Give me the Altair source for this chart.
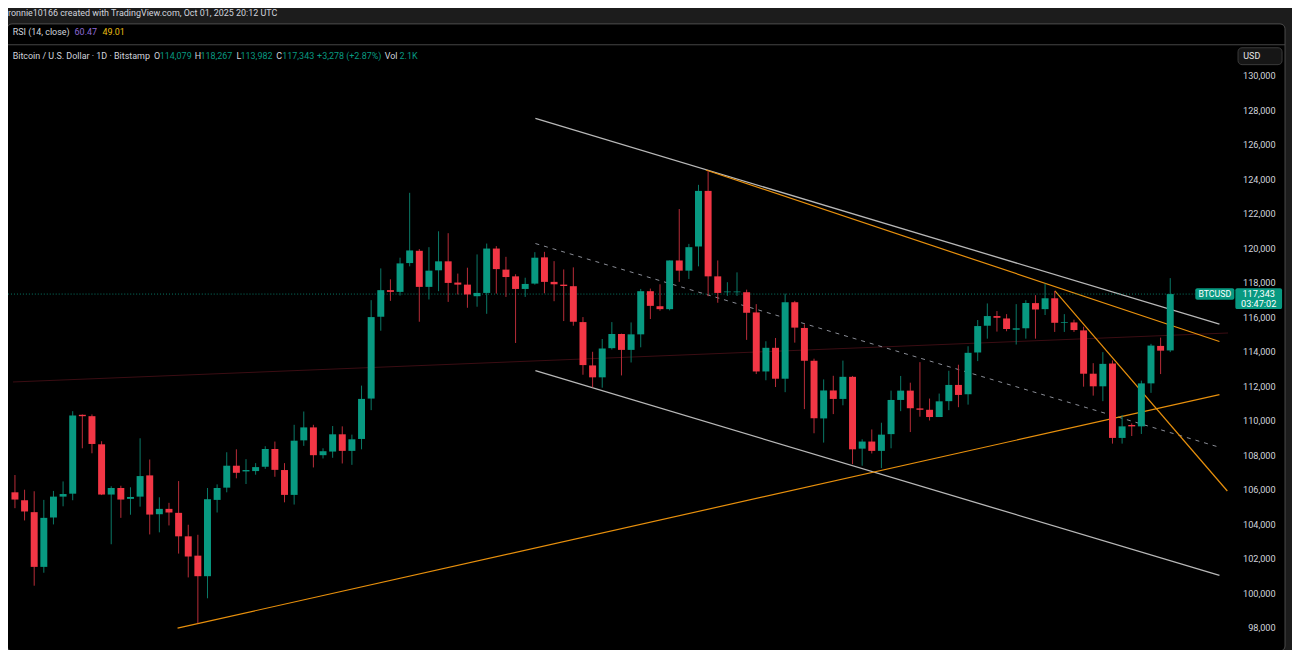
import altair as alt
import pandas as pd

# ---------------- data ----------------
opens = [105860, 105400, 104710, 101540, 104400, 105610, 105780, 110350, 110270, 108640,
         105730, 106110, 105480, 105610, 106840, 104590, 104900, 104670, 103310, 102190,
         101000, 105420, 106130, 107400, 107070, 107090, 107340, 108370, 107150, 105710,
         108870, 109620, 108010, 108220, 109220, 108260, 108950, 111290, 116030, 117570,
         117470, 119140, 119850, 117760, 118720, 119240, 118010, 117890, 117220, 117410,
         119980, 118760, 118370, 117640, 117950, 119470, 118050, 117890, 117800, 115720,
         113210, 112520, 114210, 115030, 114110, 115010, 117510, 116640, 116470, 119290,
         118700, 120100, 123320, 118370, 117450, 117450, 117450, 116280, 112860, 114230,
         112440, 116870, 115380, 113480, 110140, 111760, 111270, 112550, 108390, 108800,
         108260, 109230, 111210, 111750, 110720, 110640, 110220, 111140, 112080, 111540,
         113960, 115510, 116070, 115930, 115280, 115360, 116820, 116470, 117100, 115680,
         115700, 115240, 112730, 112000, 113320, 109010, 109760, 109680, 112170, 114340,
         114079]
highs = [106860, 106010, 105920, 105420, 105940, 106490, 110560, 110370, 110370, 108820,
         106210, 106240, 106150, 108990, 107760, 105570, 105250, 106510, 103980, 103400,
         106110, 106320, 108180, 108350, 107780, 107550, 108530, 108800, 107550, 109770,
         110540, 109770, 108410, 109700, 109680, 109200, 112040, 116990, 118830, 118200,
         119450, 123210, 119950, 120060, 120980, 120870, 118530, 118870, 119640, 120270,
         120120, 119500, 118490, 118290, 119770, 119790, 119250, 118770, 118890, 116010,
         114000, 114740, 115720, 115050, 115700, 117640, 117660, 117910, 119290, 122270,
         120250, 123670, 124470, 119290, 118030, 118600, 117600, 116760, 114610, 114800,
         117370, 116950, 115590, 113600, 112400, 112610, 113490, 112600, 108930, 109500,
         109890, 111750, 112600, 112210, 113400, 111290, 111580, 112900, 113250, 114320,
         115840, 116800, 116360, 116180, 116760, 116990, 117280, 117950, 117530, 116180,
         115860, 115450, 113340, 113980, 113500, 110330, 109850, 112330, 114460, 114820,
         118267]
lows = [104940, 104230, 100450, 101200, 104000, 105050, 105400, 108410, 108120, 105700,
        102850, 104380, 104560, 105030, 103420, 103540, 103940, 102310, 100930, 98280,
        99720, 104690, 105860, 106670, 106340, 106880, 107220, 106760, 105280, 105150,
        108550, 107300, 107820, 107860, 107530, 107450, 108350, 110620, 115220, 116950,
        117260, 118950, 115740, 117030, 117510, 116890, 117320, 116550, 116610, 116200,
        117370, 117180, 114510, 117180, 117890, 117390, 116930, 115780, 115510, 112670,
        111940, 111920, 114130, 112630, 113380, 114260, 115900, 116380, 116400, 118050,
        118220, 118950, 117220, 116840, 117240, 117240, 114690, 112710, 112350, 111960,
        111660, 114530, 110680, 109280, 108740, 110390, 110900, 107490, 107400, 108110,
        107260, 108410, 110560, 109350, 110240, 110020, 110220, 110620, 110790, 110940,
        113460, 114760, 115170, 115190, 114420, 114760, 114760, 116130, 115150, 115150,
        115150, 111980, 111460, 111140, 108680, 108680, 109120, 109240, 111620, 112710,
        113982]
closes = [105440, 104750, 101540, 104380, 105610, 105760, 110310, 110270, 108660, 105730,
          106110, 105440, 105590, 106800, 104570, 104900, 104690, 103310, 102140, 101000,
          105460, 106110, 107400, 106990, 107150, 107320, 108370, 107160, 105710, 108850,
          109620, 108010, 108240, 109220, 108260, 108930, 111270, 116010, 117570, 117470,
          119120, 119870, 117760, 118700, 119240, 117990, 117890, 117320, 117410, 119980,
          118790, 118330, 117640, 117930, 119450, 118050, 117910, 117810, 115740, 113230,
          112520, 114190, 115030, 114110, 115010, 117510, 116660, 116470, 119290, 118700,
          120060, 123320, 118370, 117410, 117490, 117490, 116260, 112860, 114230, 112440,
          116870, 115400, 113480, 110150, 111760, 111270, 112550, 108350, 108800, 108260,
          109200, 111210, 111750, 110730, 110640, 110220, 111130, 112080, 111500, 113940,
          115490, 116070, 115970, 115320, 115360, 116820, 116450, 117100, 115680, 115720,
          115260, 112730, 112000, 113300, 109010, 109680, 109680, 112170, 114360, 114065,
          117343]

# drawn lines: name, start (bar index, price), end (bar index, price)
line_names = ["upper", "lower", "mid", "orange_top", "orange_up", "orange_steep", "dark_red"]
line_i0 = [54.06, 54.06, 54.06, 71.77, 16.89, 108.02, -0.2]
line_p0 = [127524, 112902, 120271, 124531, 97991, 117525, 112251]
line_i1 = [125.11, 125.11, 125.11, 125.11, 125.11, 125.93, 126.0]
line_p1 = [115607, 101042, 108469, 114594, 111520, 105936, 115089]

last_price = [117343]
price_ticks = list(range(98000, 130001, 2000))

# ---------------- tables ----------------
candles = pd.DataFrame({"i": list(range(len(opens))), "open": opens, "high": highs,
                        "low": lows, "close": closes})

rows = []
for n, a, b, c, d in zip(line_names, line_i0, line_p0, line_i1, line_p1):
    rows.append({"name": n, "i": a, "p": b})
    rows.append({"name": n, "i": c, "p": d})
lines = pd.DataFrame(rows)
one = pd.DataFrame({"k": [0]})
lastdf = pd.DataFrame({"p": last_price})

W, H = 1233, 642
FONT = "Roboto"
FS = 9.0
UP, DOWN = "#089981", "#F23645"
UPW, DOWNW = "#0a7a68", "#b82c38"

xsc = alt.Scale(domain=[-0.205, 126.04], nice=False, zero=False)
ysc = alt.Scale(domain=[96840, 133800], nice=False, zero=False)
yax = alt.Axis(orient="right", values=price_ticks, format=",d", labelAlign="right",
               labelPadding=42, ticks=False, tickSize=0, domain=False, grid=False,
               labelColor="#d1d4dc", labelFont=FONT, labelFontSize=9.2,
               labelOverlap=False, title=None, zindex=5)


def box(x, x2, y, y2, fill, stroke="transparent", radius=0, sw=1):
    return alt.Chart(one).mark_rect(fill=fill, stroke=stroke, strokeWidth=sw,
                                    cornerRadius=radius).encode(
        x=alt.value(x), x2=alt.value(x2), y=alt.value(y), y2=alt.value(y2))


def hline(x, x2, y, color, sw=1):
    return alt.Chart(one).mark_rule(color=color, strokeWidth=sw).encode(
        x=alt.value(x), x2=alt.value(x2), y=alt.value(y))


def txt(s, x, y, color="#d1d4dc", size=FS, align="left", weight="normal"):
    return alt.Chart(one).mark_text(text=s, align=align, baseline="middle", color=color,
                                    fontSize=size, font=FONT, fontWeight=weight).encode(
        x=alt.value(x), y=alt.value(y))


def line_layer(names, color, width, dash=None):
    kw = dict(color=color, strokeWidth=width)
    if dash:
        kw["strokeDash"] = dash
    return alt.Chart(lines).transform_filter(
        alt.FieldOneOfPredicate(field="name", oneOf=names)
    ).mark_line(**kw).encode(
        x=alt.X("i:Q", scale=xsc, axis=None),
        y=alt.Y("p:Q", scale=ysc, axis=yax),
        detail="name:N")


panel = box(-1, 1285, 14, 645, "#000000", stroke="#4d4d4d", radius=5)
sep = hline(0, 1285, 35, "#474747")

dark_red = line_layer(["dark_red"], "#3b0d13", 1)
mid = line_layer(["mid"], "#8a8d96", 1, [4, 5])
grays = line_layer(["upper", "lower"], "#b8b8b8", 1.3)
oranges = line_layer(["orange_top", "orange_up", "orange_steep"], "#e8900c", 1.2)

price_line = alt.Chart(lastdf).mark_rule(color=UP, strokeDash=[1, 2], opacity=0.8).encode(
    y=alt.Y("p:Q", scale=ysc, axis=yax), x=alt.value(0), x2=alt.value(1195))

is_up = "datum.close >= datum.open"

wicks = alt.Chart(candles).mark_rule(strokeWidth=1).encode(
    x=alt.X("i:Q", scale=xsc, axis=None),
    y=alt.Y("low:Q", scale=ysc, axis=yax),
    y2="high:Q",
    color=alt.condition(is_up, alt.value(UPW), alt.value(DOWNW)))

bodies = alt.Chart(candles).mark_bar(size=7).encode(
    x=alt.X("i:Q", scale=xsc, axis=None),
    y=alt.Y("open:Q", scale=ysc, axis=yax),
    y2="close:Q",
    color=alt.condition(is_up, alt.value(UP), alt.value(DOWN)))

texts = [
    txt("ronnie10166 created with TradingView.com, Oct 01, 2025 20:12 UTC", 0, 3),
    txt("RSI (14, close)", 4.7, 22),
    txt("60.47", 67, 22, color="#8f6ad6"),
    txt("49.01", 95, 22, color="#e8bd12"),
    txt("Bitcoin / U.S. Dollar · 1D · Bitstamp", 4.7, 46),
    txt("O", 147, 46), txt("114,079", 152.7, 46, color=UP),
    txt("H", 188, 46), txt("118,267", 193.7, 46, color=UP),
    txt("L", 230, 46), txt("113,982", 234, 46, color=UP),
    txt("C", 270, 46), txt("117,343", 276, 46, color=UP),
    txt("+3,278 (+2.87%)", 311, 46, color=UP),
    txt("Vol", 379, 46), txt("2.1K", 394, 46, color=UP),
]

usd = [box(1237.7, 1282, 38, 55, "#161616", stroke="#3a3a3a", radius=4),
       txt("USD", 1243, 46.5, color="#e6e6e6")]

tags = [box(1194.7, 1234, 280, 291.5, UP, radius=2),
        txt("BTCUSD", 1214.3, 286, color="#ffffff", size=8.8, align="center"),
        box(1235, 1282, 280, 301, UP, radius=2),
        txt("117,343", 1258.5, 285.5, color="#ffffff", size=9.2, align="center"),
        txt("03:47:02", 1258.5, 295.5, color="#ffffff", size=9.2, align="center")]

chart = alt.layer(
    panel, sep, dark_red, mid, grays, oranges, price_line, wicks, bodies,
    *texts, *usd, *tags
).properties(
    width=W, height=H,
    autosize=alt.AutoSizeParams(type="none"),
    padding={"left": 0, "top": 0, "right": 59, "bottom": 0},
).configure(background="#1c1c1c").configure_view(strokeWidth=0)

chart.save("out.html", embed_options={"renderer": "svg", "actions": False})
